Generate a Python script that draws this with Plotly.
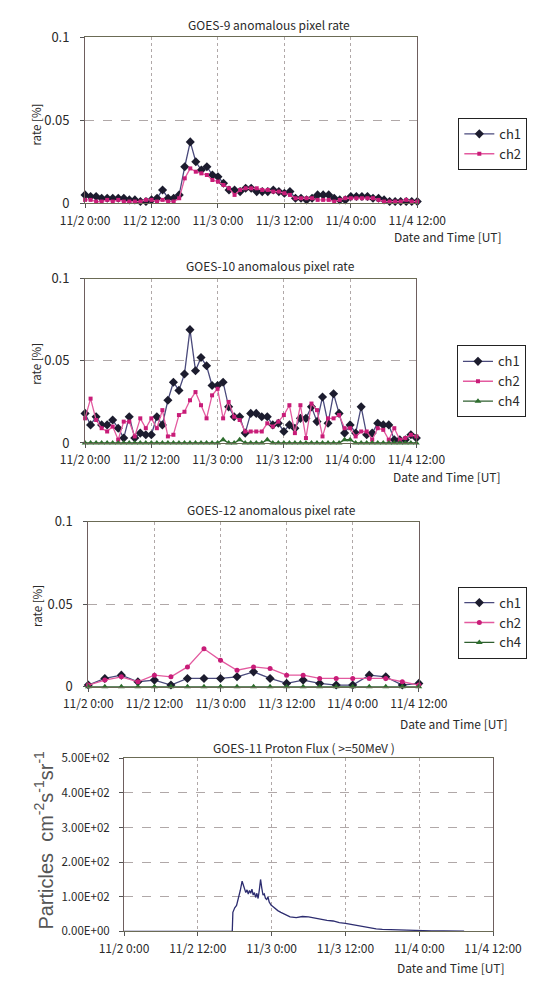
import plotly.graph_objects as go

W, H = 550, 985

# ---------------- data ----------------
tick_vals = [0, 12, 24, 36, 48, 60]
tick_text = ["11/2 0:00", "11/2 12:00", "11/3 0:00", "11/3 12:00", "11/4 0:00", "11/4 12:00"]

hours_1h = list(range(0, 61))          # hourly samples (hours since 11/2 0:00)
hours_3h = list(range(0, 61, 3))       # 3-hourly samples

g9_ch1 = [.005, .004, .004, .003, .003, .003, .003, .003, .002, .002,
          .001, .001, .002, .003, .008, .003, .003, .005, .022, .037,
          .025, .020, .022, .017, .016, .012, .008, .008, .007, .009,
          .009, .007, .007, .007, .008, .007, .006, .007, .003, .003,
          .002, .003, .005, .005, .005, .003, .002, .002, .004, .004,
          .004, .004, .003, .003, .002, .001, .001, .001, .001, .001, .001]
g9_ch2 = [.002, .002, .001, .001, .002, .001, .002, .001, .001, .001,
          .001, .002, .002, .001, .002, .001, .001, .003, .015, .021,
          .019, .018, .017, .014, .013, .011, .009, .005, .008, .009,
          .009, .009, .008, .008, .007, .007, .006, .005, .003, .003,
          .003, .003, .002, .002, .002, .001, .002, .003, .003, .003,
          .003, .003, .003, .002, .001, .001, .001, .001, .002, .001, .001]

g10_ch1 = [.018, .011, .016, .011, .011, .014, .009, .003, .016, .003,
           .006, .005, .005, .016, .011, .026, .037, .032, .042, .069,
           .044, .052, .047, .035, .035, .037, .022, .016, .016, .006,
           .018, .018, .016, .016, .011, .012, .007, .011, .009, .015,
           .015, .022, .013, .028, .012, .030, .018, .006, .011, .006,
           .022, .005, .006, .012, .011, .011, .002, .002, .002, .005, .003]
g10_ch2 = [.015, .027, .014, .009, .007, .010, .002, .013, .013, .004,
           .015, .009, .015, .009, .020, .004, .005, .017, .019, .026,
           .031, .023, .015, .029, .033, .015, .025, .016, .014, .007,
           .007, .007, .007, .012, .010, .013, .017, .023, .006, .023,
           .003, .024, .020, .004, .015, .015, .017, .009, .009, .004,
           .007, .007, .002, .009, .008, .002, .009, .002, .003, .005, .004]
g10_ch4 = [0, 0, 0, 0, 0, 0, 0, 0, 0, 0,
           0, 0, 0, 0, 0, 0, 0, 0, 0, 0,
           0, 0, 0, 0, 0, .002, 0, 0, .002, 0,
           0, 0, 0, .002, 0, 0, 0, 0, 0, 0,
           0, 0, 0, 0, 0, 0, 0, .002, .002, 0,
           0, 0, 0, 0, 0, 0, 0, 0, 0, 0, 0]

g12_ch1 = [.001, .005, .007, .003, .004, .001, .005, .005, .005, .006, .009,
           .005, .002, .004, .002, .001, .001, .007, .006, .001, .002]
g12_ch2 = [.001, .004, .006, .003, .007, .006, .012, .023, .016, .010, .012,
           .011, .007, .007, .005, .005, .005, .005, .005, .003, .001]
g12_ch4 = [0] * 21

proton_t = [0, 17.6, 17.7, 18.0, 18.3, 18.6, 18.9, 19.2, 19.4, 19.6, 19.8,
            20.0, 20.2, 20.4, 20.6, 20.8, 21.0, 21.2, 21.4, 21.6, 21.8,
            22.0, 22.2, 22.4, 22.6, 22.8, 23.0, 23.2, 23.4, 23.6, 23.9,
            24.2, 24.6, 25.0, 25.5, 26.0, 26.5, 27.0, 28.0, 29.0, 30.0,
            31.0, 32.0, 33.0, 34.0, 35.0, 36.0, 37.0, 38.0, 39.0, 40.0,
            41.0, 42.0, 44.0, 46.0, 48.0, 50.0, 52.0, 54.0, 55.3]
proton_v = [0, 0, 55, 68, 75, 95, 118, 145, 132, 125, 112,
            120, 108, 118, 110, 122, 105, 112, 98, 110, 95,
            120, 150, 125, 105, 108, 95, 92, 100, 85, 76,
            72, 65, 60, 55, 50, 46, 42, 40, 43, 42,
            38, 36, 32, 30, 25, 23, 20, 16, 12, 9.5,
            7, 5.7, 4.3, 3.2, 2.2, 1.6, 1.1, 0.9, 0.7]

proton_ticks = [0, 100, 200, 300, 400, 500]
proton_ticktext = ["0.00E+00", "1.00E+02", "2.00E+02", "3.00E+02", "4.00E+02", "5.00E+02"]
rate_ticks = [0, 0.05, 0.1]
rate_ticktext = ["0", "0.05", "0.1"]

# ---------------- styling ----------------
FONT = "Noto Sans CJK JP"
TXT = "#2a2a2a"
C1_LINE, C1_MK = "#4a4a7c", "#1c1c2e"
C2_LINE, C2_MK = "#e35a9f", "#c81c78"
C4_LINE, C4_MK = "#2f5f2f", "#2e6e2e"

def fx(p):
    return p / W

def fy(p):
    return 1 - p / H

panels = [
    # x0, x1, ytop, ybottom
    (66.6, 435.0, 28.0, 197.0),
    (66.6, 434.0, 274.0, 441.5),
    (70.2, 436.7, 522.0, 690.0),
    (109.8, 519.0, 763.0, 939.5),
]

fig = go.Figure()

def add(x, y, name, xa, ya, leg, line_c, mk_c, sym, size, show=True):
    fig.add_trace(go.Scatter(
        x=x, y=y, name=name, mode="lines+markers",
        xaxis=xa, yaxis=ya, legend=leg, showlegend=show,
        line=dict(color=line_c, width=1.3),
        marker=dict(color=mk_c, symbol=sym, size=size, line=dict(width=0)),
        cliponaxis=False,
    ))

add(hours_1h, g9_ch1, "ch1", "x", "y", "legend", C1_LINE, C1_MK, "diamond", 7)
add(hours_1h, g9_ch2, "ch2", "x", "y", "legend", C2_LINE, C2_MK, "square", 4)

add(hours_1h, g10_ch1, "ch1", "x2", "y2", "legend2", C1_LINE, C1_MK, "diamond", 7)
add(hours_1h, g10_ch2, "ch2", "x2", "y2", "legend2", C2_LINE, C2_MK, "square", 4)
add(hours_1h, g10_ch4, "ch4", "x2", "y2", "legend2", C4_LINE, C4_MK, "triangle-up", 6)

add(hours_3h, g12_ch1, "ch1", "x3", "y3", "legend3", C1_LINE, C1_MK, "diamond", 7)
add(hours_3h, g12_ch2, "ch2", "x3", "y3", "legend3", C2_LINE, C2_MK, "circle", 5)
add(hours_3h, g12_ch4, "ch4", "x3", "y3", "legend3", C4_LINE, C4_MK, "triangle-up", 6)

fig.add_trace(go.Scatter(
    x=proton_t, y=proton_v, mode="lines", xaxis="x4", yaxis="y4",
    showlegend=False, line=dict(color="#2d2d70", width=1.3), cliponaxis=False,
))

layout = dict(
    width=W, height=H, margin=dict(l=0, r=0, t=0, b=0),
    paper_bgcolor="white", plot_bgcolor="white",
    font=dict(family=FONT, color=TXT, size=11),
)

for i, (x0, x1, yt, yb) in enumerate(panels, start=1):
    sfx = "" if i == 1 else str(i)
    anchor = "y" + sfx
    layout["xaxis" + sfx] = dict(
        domain=[fx(x0), fx(x1)], anchor=anchor, range=[0, 60],
        tickvals=tick_vals, ticktext=tick_text, ticks="outside", ticklen=4,
        tickcolor="#555", showline=True, linecolor="#6b6b55", linewidth=1,
        mirror=True, showgrid=True, gridcolor="#b0a8a8", griddash="dot",
        gridwidth=1, zeroline=False, tickfont=dict(size=12, color=TXT),
        ticklabelstandoff=2, fixedrange=True,
    )
    if i < 4:
        ydict = dict(range=[0, 0.1], tickvals=rate_ticks, ticktext=rate_ticktext,
                     tickfont=dict(size=13, color=TXT), ticklabelstandoff=8)
    else:
        ydict = dict(range=[0, 500], tickvals=proton_ticks, ticktext=proton_ticktext,
                     tickfont=dict(size=11.5, color=TXT), ticklabelstandoff=7)
    ydict.update(
        domain=[fy(yb), fy(yt)], anchor="x" + sfx, ticks="outside", ticklen=4,
        tickcolor="#555", showline=True, linecolor="#6e5e5e", linewidth=1,
        mirror=True, showgrid=True, gridcolor="#b0a8a8", griddash="dash",
        gridwidth=1, zeroline=False, fixedrange=True,
    )
    layout["yaxis" + sfx] = ydict

legend_pos = [(480.5, 110.0), (479.0, 342.0), (480.5, 588.0)]
for i, (lx, ly) in enumerate(legend_pos, start=1):
    key = "legend" if i == 1 else "legend" + str(i)
    layout[key] = dict(
        x=fx(lx), y=fy(ly), xanchor="left", yanchor="top",
        bordercolor="#222", borderwidth=1, bgcolor="white",
        font=dict(size=13, color=TXT), itemwidth=30, tracegroupgap=0,
    )

fig.update_layout(**layout)

titles = [
    ("GOES-9 anomalous pixel rate", 271, 15),
    ("GOES-10 anomalous pixel rate", 272, 261),
    ("GOES-12 anomalous pixel rate", 273, 509),
    ("GOES-11 Proton Flux ( >=50MeV )", 309, 752),
]
for t, cx, cy in titles:
    fig.add_annotation(text=t, x=fx(cx), y=fy(cy), xref="paper", yref="paper",
                       xanchor="center", yanchor="middle", showarrow=False,
                       font=dict(size=12, color=TXT))

xlabels = [(531, 231), (530, 476), (538, 728), (535, 976)]
for rx, cy in xlabels:
    fig.add_annotation(text="Date and Time [UT]", x=fx(rx), y=fy(cy),
                       xref="paper", yref="paper", xanchor="right", yanchor="middle",
                       showarrow=False, font=dict(size=12, color=TXT))

ylabels = [(12, 117), (12, 361), (14, 608)]
for cx, cy in ylabels:
    fig.add_annotation(text="rate [%]", x=fx(cx), y=fy(cy), xref="paper", yref="paper",
                       xanchor="center", yanchor="middle", textangle=-90,
                       showarrow=False, font=dict(size=11.5, color=TXT))

fig.add_annotation(text="Particles  cm<sup>-2</sup>s<sup>-1</sup>sr<sup>-1</sup>",
                   x=fx(21), y=fy(846), xref="paper", yref="paper",
                   xanchor="center", yanchor="middle", textangle=-90, showarrow=False,
                   font=dict(size=20, color="#555", family="Liberation Sans"))

fig.write_html("out.html")
